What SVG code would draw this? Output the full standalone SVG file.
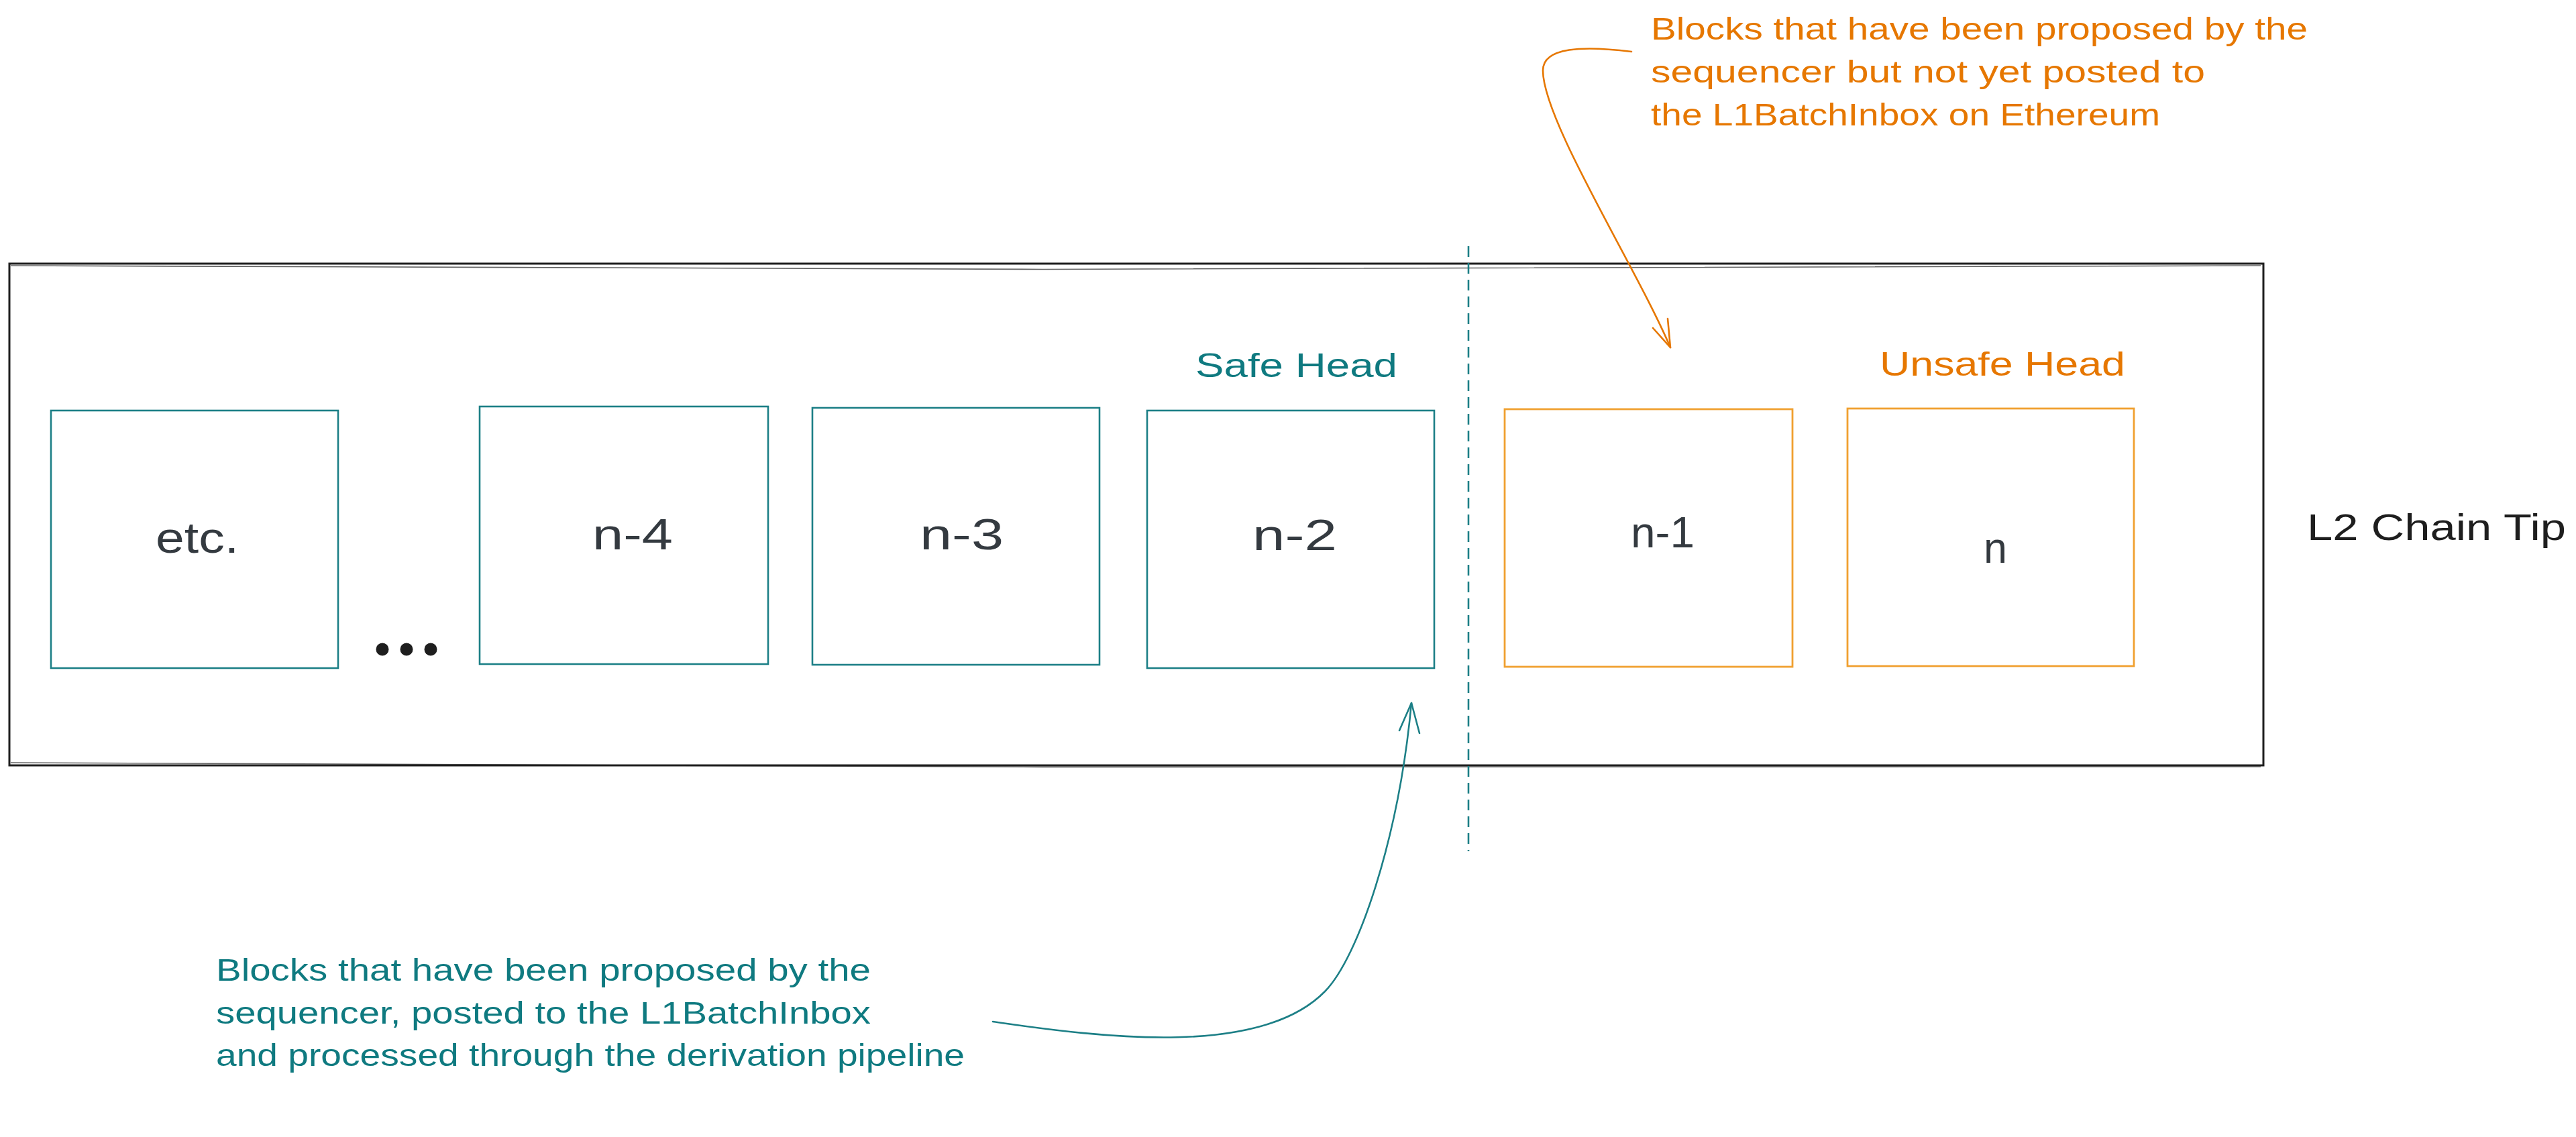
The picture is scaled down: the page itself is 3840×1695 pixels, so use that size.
<svg xmlns="http://www.w3.org/2000/svg" width="3840" height="1695" viewBox="0 0 3840 1695">
<defs>
<style>
.bg{fill:#ffffff}
.frame{fill:none;stroke:#1e1e1e;stroke-width:3}
.frame2{fill:none;stroke:#1e1e1e;stroke-width:1.6;opacity:0.7}
.safe{fill:none;stroke:#1c7f86;stroke-width:2.6}
.unsafe{fill:none;stroke:#f0a030;stroke-width:2.8}
.lbl{font-family:"Liberation Sans",Arial,sans-serif;font-size:64px;fill:#343a40}
.teal{font-family:"Liberation Sans",Arial,sans-serif;fill:#0f7a80}
.orange{font-family:"Liberation Sans",Arial,sans-serif;fill:#e67700}
.dark{font-family:"Liberation Sans",Arial,sans-serif;fill:#1e1e1e}
.ann{font-size:46px}
.head{font-size:50px}
.tealline{fill:none;stroke:#1c7f86;stroke-width:2.6;stroke-linecap:round;stroke-linejoin:round}
.orangeline{fill:none;stroke:#e67700;stroke-width:2.6;stroke-linecap:round;stroke-linejoin:round}
.divider{fill:none;stroke:#1c7f86;stroke-width:2.6;stroke-dasharray:16 9}
</style>
</defs>
<rect class="bg" x="0" y="0" width="3840" height="1695"/>

<g id="chain-frame">
<path class="frame" d="M14,393 L3374,393 L3374,1141 L14,1141 Z"/>
<path class="frame2" d="M16,396 C1000,402 2500,405 3370,396"/>
<path class="frame2" d="M16,1137 C1000,1144 2500,1146 3370,1143"/>
</g>

<g id="block-etc">
<rect class="safe" x="76" y="612" width="428" height="384"/>
<text class="lbl" x="232" y="824" textLength="124" lengthAdjust="spacingAndGlyphs">etc.</text>
</g>

<g id="ellipsis">
<circle cx="570" cy="968" r="9.5" fill="#1e1e1e"/>
<circle cx="606" cy="968" r="9.5" fill="#1e1e1e"/>
<circle cx="642" cy="968" r="9.5" fill="#1e1e1e"/>
</g>

<g id="block-n-4">
<rect class="safe" x="715" y="606" width="430" height="384"/>
<text class="lbl" x="883" y="819" textLength="120" lengthAdjust="spacingAndGlyphs">n-4</text>
</g>

<g id="block-n-3">
<rect class="safe" x="1211" y="608" width="428" height="383"/>
<text class="lbl" x="1371" y="819" textLength="125" lengthAdjust="spacingAndGlyphs">n-3</text>
</g>

<g id="block-n-2">
<rect class="safe" x="1710" y="612" width="428" height="384"/>
<text class="lbl" x="1867" y="820" textLength="126" lengthAdjust="spacingAndGlyphs">n-2</text>
</g>

<g id="block-n-1">
<rect class="unsafe" x="2243" y="610" width="429" height="384"/>
<text class="lbl" x="2431" y="816" textLength="95" lengthAdjust="spacingAndGlyphs">n-1</text>
</g>

<g id="block-n">
<rect class="unsafe" x="2754" y="609" width="427" height="384"/>
<text class="lbl" x="2957" y="839" textLength="35" lengthAdjust="spacingAndGlyphs">n</text>
</g>

<g id="label-safe-head">
<text class="teal head" x="1782" y="562" textLength="301" lengthAdjust="spacingAndGlyphs">Safe Head</text>
</g>

<g id="label-unsafe-head">
<text class="orange head" x="2802" y="560" textLength="366" lengthAdjust="spacingAndGlyphs">Unsafe Head</text>
</g>

<g id="label-chain-tip">
<text class="dark" font-size="56" x="3439" y="805" textLength="386" lengthAdjust="spacingAndGlyphs">L2 Chain Tip</text>
</g>

<g id="note-unsafe">
<text class="orange ann" x="2461" y="59" textLength="979" lengthAdjust="spacingAndGlyphs">Blocks that have been proposed by the</text>
<text class="orange ann" x="2461" y="123" textLength="826" lengthAdjust="spacingAndGlyphs">sequencer but not yet posted to</text>
<text class="orange ann" x="2461" y="187" textLength="759" lengthAdjust="spacingAndGlyphs">the L1BatchInbox on Ethereum</text>
</g>

<g id="note-safe">
<text class="teal ann" x="322" y="1462" textLength="976" lengthAdjust="spacingAndGlyphs">Blocks that have been proposed by the</text>
<text class="teal ann" x="322" y="1526" textLength="976" lengthAdjust="spacingAndGlyphs">sequencer, posted to the L1BatchInbox</text>
<text class="teal ann" x="322" y="1589" textLength="1116" lengthAdjust="spacingAndGlyphs">and processed through the derivation pipeline</text>
</g>

<g id="connectors">
<path class="divider" d="M2189,367 L2189,1269"/>
<path class="orangeline" d="M2432,77 C2360,68 2300,70 2300,105 C2300,180 2440,400 2490,518"/>
<path class="orangeline" d="M2464,489 L2490,518 L2486,475"/>
<path class="tealline" d="M1480,1523 C1650,1548 1880,1575 1975,1478 C2025,1427 2085,1250 2104,1048"/>
<path class="tealline" d="M2086,1089 L2104,1048 L2116,1093"/>
</g>
</svg>
